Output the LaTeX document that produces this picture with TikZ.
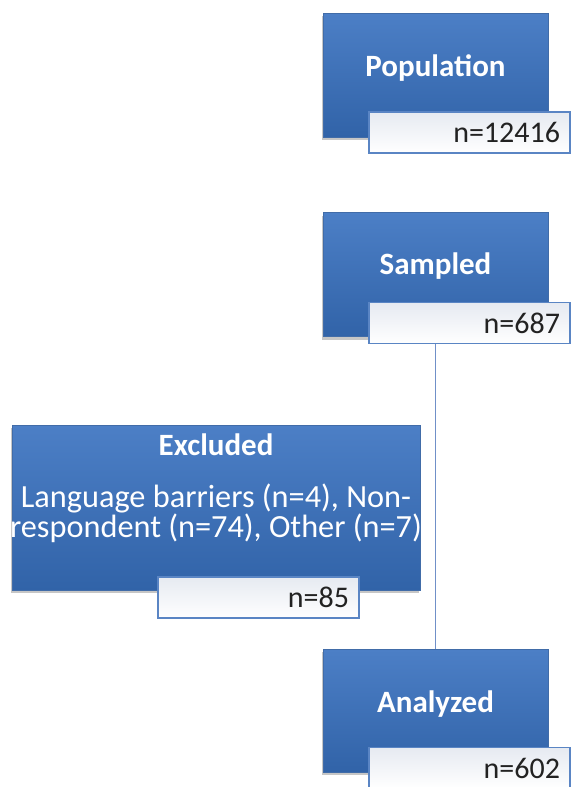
\documentclass[tikz,border=0pt]{standalone}
\usepackage{fontspec}
\setmainfont{Carlito}
\usetikzlibrary{shadows}
\definecolor{bluetop}{HTML}{4C7FC6}
\definecolor{bluebot}{HTML}{3163A8}
\definecolor{lblborder}{HTML}{5A85C4}
\definecolor{lbltop}{HTML}{E6EAF1}
\definecolor{connc}{HTML}{7090C8}
\definecolor{txtdark}{HTML}{222222}
\tikzset{
  x=1pt, y=-1pt,
  bluebox/.style={draw=bluetop!85!black, line width=0.4pt, top color=bluetop, bottom color=bluebot,
    minimum width=225pt, minimum height=124pt, inner sep=0pt,
    drop shadow={shadow xshift=-1.5pt, shadow yshift=-3pt, opacity=0.45}},
  lblbox/.style={draw=lblborder, line width=1.1pt, top color=lbltop, bottom color=white,
    minimum width=201pt, minimum height=41pt, text width=181pt, align=right,
    inner xsep=10pt, inner ysep=0pt, font=\fontsize{30}{32}\selectfont, text=txtdark},
  title/.style={text=white, font=\fontsize{31}{34}\selectfont\bfseries, inner sep=0pt},
  body/.style={text=white, font=\fontsize{32.3}{30}\selectfont, align=center, inner sep=0pt},
  conn/.style={draw=connc, line width=1.1pt}
}
\begin{document}
\begin{tikzpicture}
\useasboundingbox (0,0) rectangle (571,787);
% Population
\node[bluebox] (pop) at (435.5,75) {};
\node[title] (popt) at (435.5,68) {Population};
\node[lblbox] (popl) at (469.5,132.5) {n=12416};
% Sampled
\node[bluebox] (smp) at (435.5,274.5) {};
\node[title] (smpt) at (435.5,266) {Sampled};
\node[lblbox] (smpl) at (469.5,323) {n=687};
% Excluded
\node[bluebox, minimum width=408pt, minimum height=165pt] (exc) at (216,507.5) {};
\node[title] (exct) at (216,445) {Excluded};
\node[body] (excb) at (216,513) {Language barriers (n=4), Non-\\respondent (n=74), Other (n=7)};
\node[lblbox] (excl) at (258.5,597.5) {n=85};
% Analyzed
\node[bluebox, minimum height=123pt] (ana) at (435.5,710.5) {};
\node[title] (anat) at (435.5,704) {Analyzed};
\node[lblbox] (anal) at (469.5,768) {n=602};
% connector
\coordinate (top) at (smpl.south -| ana.north);
\draw[conn] (top) -- (ana.north);
\end{tikzpicture}
\end{document}
